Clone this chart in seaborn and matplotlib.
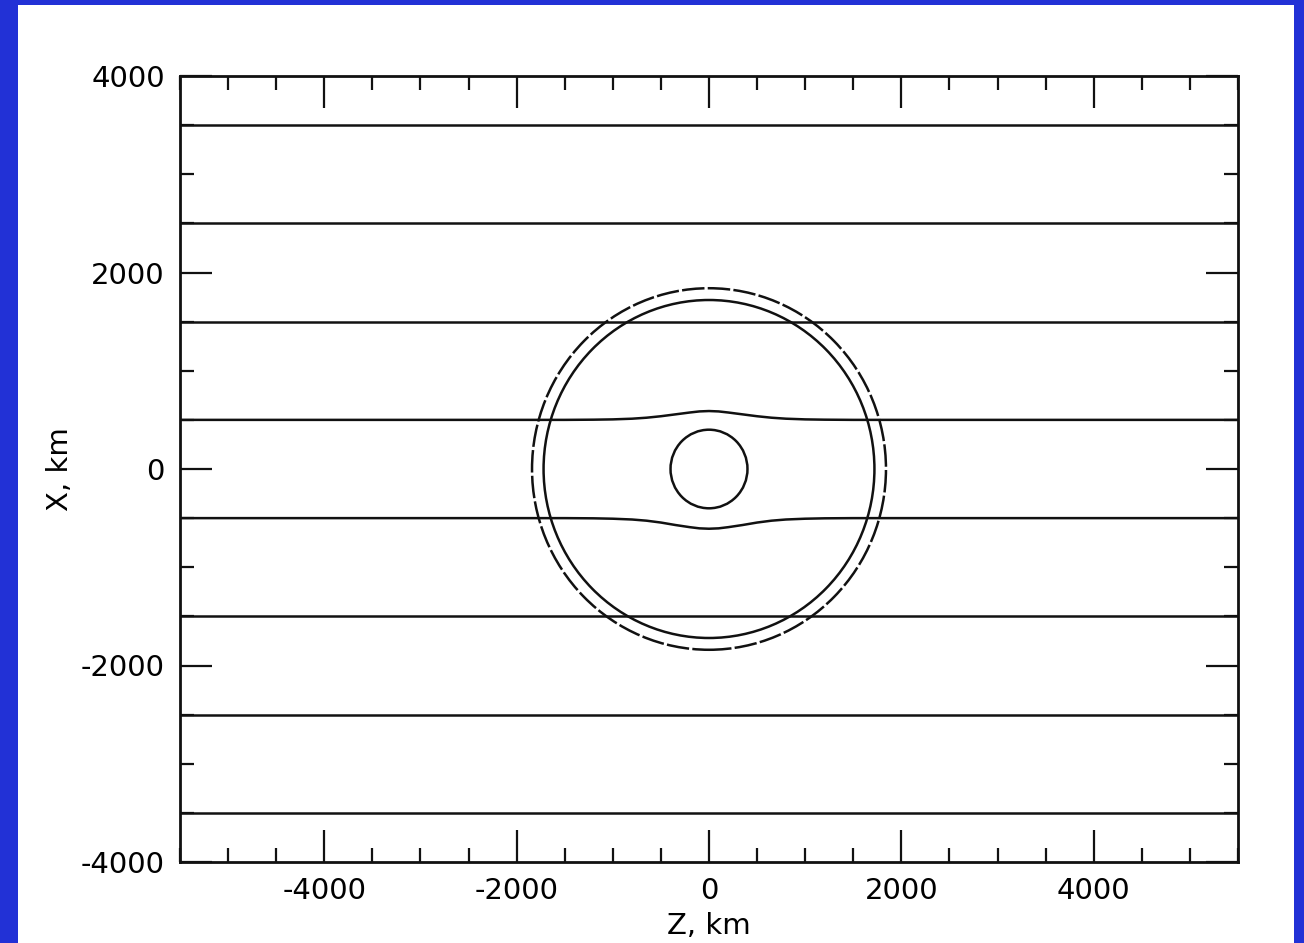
import numpy as np
import pandas as pd
import matplotlib
matplotlib.use("Agg")
from matplotlib import pyplot as plt
from matplotlib.patches import Circle, Rectangle
from matplotlib.ticker import MultipleLocator
import seaborn as sns

# straight field lines (X levels, km)
flat_levels = [-3500, -2500, -1500, 1500, 2500, 3500]
z_span = [-5500, 5500]

# the two lines nearest the axis bulge outward near the centre
bump_z = [-5500, -1500, -1200, -1000, -800, -650, -500, -350, -200, -100, 0,
          100, 200, 350, 500, 650, 800, 1000, 1200, 1500, 5500]
upper_x = [500, 500, 502, 505, 512, 522, 537, 556, 575, 586, 590,
           586, 575, 556, 537, 522, 512, 505, 502, 500, 500]
lower_x = [-500, -500, -502, -506, -514, -526, -545, -570, -592, -604, -608,
           -604, -592, -570, -545, -526, -514, -506, -502, -500, -500]

# circles centred on the origin (radius, km)
inner_r = 400
solid_r = 1720
dashed_r = 1840

rows = []
for i, lev in enumerate(flat_levels):
    for z in z_span:
        rows.append({"line": f"f{i}", "Z": z, "X": lev})
for z, xu, xl in zip(bump_z, upper_x, lower_x):
    rows.append({"line": "up", "Z": z, "X": xu})
    rows.append({"line": "lo", "Z": z, "X": xl})
df = pd.DataFrame(rows)

sns.set_style("ticks")
plt.rcParams["font.family"] = ["DejaVu Sans"]
plt.rcParams["axes.unicode_minus"] = False
plt.rcParams["text.color"] = "black"
plt.rcParams["axes.labelcolor"] = "black"
plt.rcParams["xtick.labelcolor"] = "black"
plt.rcParams["ytick.labelcolor"] = "black"

ink = "#111111"

fig = plt.figure(figsize=(13.04, 9.43), dpi=100)
fig.patch.set_facecolor("#2231d6")
fig.patches.append(Rectangle((18 / 1304, 0), 1276 / 1304, 938 / 943,
                             transform=fig.transFigure, facecolor="white",
                             edgecolor="none", zorder=-5))

ax = fig.add_axes([180 / 1304, 81 / 943, 1058 / 1304, 786 / 943])
ax.set_zorder(2)
ax.set_facecolor("white")

sns.lineplot(data=df, x="Z", y="X", units="line", estimator=None, sort=False,
             color=ink, lw=1.8, ax=ax, legend=False)

ax.add_patch(Circle((0, 0), inner_r, fill=False, ec=ink, lw=1.8))
ax.add_patch(Circle((0, 0), solid_r, fill=False, ec=ink, lw=1.8))
ax.add_patch(Circle((0, 0), dashed_r, fill=False, ec=ink, lw=1.8,
                    ls=(0, (9, 1.3))))

ax.set_xlim(-5500, 5500)
ax.set_ylim(-4000, 4000)

ax.xaxis.set_major_locator(MultipleLocator(2000))
ax.xaxis.set_minor_locator(MultipleLocator(500))
ax.yaxis.set_major_locator(MultipleLocator(2000))
ax.yaxis.set_minor_locator(MultipleLocator(500))

ax.tick_params(which="both", direction="in", top=True, right=True,
               color=ink, width=1.6)
ax.tick_params(which="major", length=23)
ax.tick_params(which="minor", length=10)
ax.tick_params(axis="x", which="major", pad=11, labelsize=21)
ax.tick_params(axis="y", which="major", pad=11, labelsize=21)

for sp in ax.spines.values():
    sp.set_color(ink)
    sp.set_linewidth(2)

ax.set_xlabel("Z, km", fontsize=21, labelpad=5)
ax.set_ylabel("X, km", fontsize=21, labelpad=5)

fig.savefig("out.png", dpi=100, facecolor=fig.get_facecolor())
